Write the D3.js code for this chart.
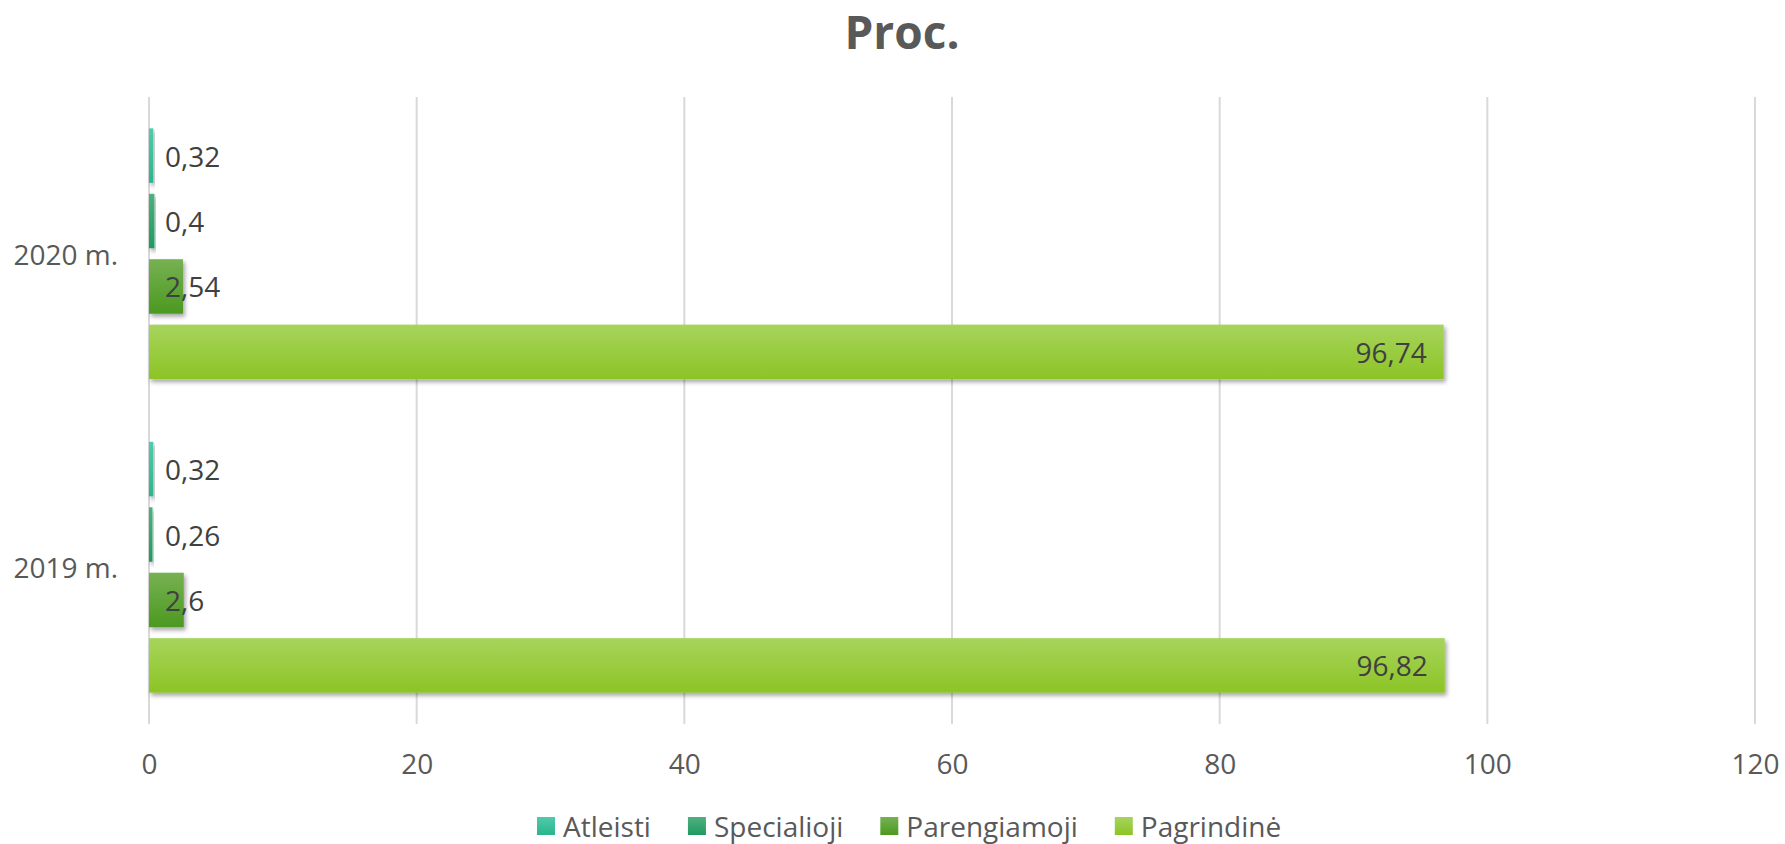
<!DOCTYPE html>
<html>
<head>
<meta charset="utf-8">
<script src="https://cdn.jsdelivr.net/npm/d3@7"></script>
<style>
html,body{margin:0;padding:0;background:#fff;}
svg{display:block;font-family:"Open Sans",sans-serif;}
</style>
</head>
<body>
<svg id="chart" width="1785" height="844"></svg>
<script>
const title = "Proc.";
const categories = ["2020 m.", "2019 m."];
const seriesNames = ["Atleisti", "Specialioji", "Parengiamoji", "Pagrindinė"];
const atleisti = [0.32, 0.32];
const specialioji = [0.4, 0.26];
const parengiamoji = [2.54, 2.6];
const pagrindine = [96.74, 96.82];
const xTicks = [0, 20, 40, 60, 80, 100, 120];

const seriesValues = [atleisti, specialioji, parengiamoji, pagrindine];
const colors = [
  ["#4fcbab", "#2bb48e"],
  ["#4fb07f", "#1f9a60"],
  ["#77b152", "#4b9920"],
  ["#a7d45c", "#8cc425"]
];

const svg = d3.select("#chart");
const defs = svg.append("defs");
colors.forEach((c, i) => {
  const g = defs.append("linearGradient").attr("id", "g" + i)
    .attr("x1", 0).attr("y1", 0).attr("x2", 0).attr("y2", 1);
  g.append("stop").attr("offset", "0%").attr("stop-color", c[0]);
  g.append("stop").attr("offset", "100%").attr("stop-color", c[1]);
});
const f = defs.append("filter").attr("id", "shadow")
  .attr("x", "-20%").attr("y", "-20%").attr("width", "150%").attr("height", "160%");
f.append("feDropShadow").attr("dx", 2).attr("dy", 3).attr("stdDeviation", 2)
  .attr("flood-color", "#000").attr("flood-opacity", 0.35);

const plotTop = 97, plotBottom = 724, plotLeft = 149, plotRight = 1755;

const x = d3.scaleLinear().domain([0, 120]).range([plotLeft, plotRight]);
const y = d3.scaleBand().domain(categories).range([plotTop, plotBottom]);
const bandH = y.bandwidth();
const inner = d3.scaleBand().domain(seriesNames)
  .range([bandH * 0.1, bandH * 0.9]).paddingInner(0.167);

// Title
svg.append("text").attr("x", 902).attr("y", 49)
  .attr("text-anchor", "middle").attr("font-size", 46).attr("font-weight", 700)
  .attr("fill", "#595959").text(title);

// Gridlines
svg.append("g").selectAll("line").data(xTicks).join("line")
  .attr("x1", d => x(d)).attr("x2", d => x(d))
  .attr("y1", plotTop).attr("y2", plotBottom)
  .attr("stroke", "#d9d9d9").attr("stroke-width", 2);

// X axis labels
const xAxis = d3.axisBottom(x).tickValues(xTicks).tickSize(0).tickPadding(0);
const xg = svg.append("g").attr("transform", `translate(0,${plotBottom})`).call(xAxis);
xg.select(".domain").remove();
xg.selectAll("text").attr("font-family", "Open Sans").attr("font-size", 28)
  .attr("fill", "#595959").attr("dy", null).attr("y", 39).attr("dominant-baseline", "central");

// Y axis labels
const yAxis = d3.axisLeft(y).tickSize(0).tickPadding(31);
const yg = svg.append("g").attr("transform", `translate(${plotLeft},0)`).call(yAxis);
yg.select(".domain").remove();
yg.selectAll("text").attr("font-family", "Open Sans").attr("font-size", 28)
  .attr("fill", "#595959").attr("dy", null).attr("dominant-baseline", "central");

// Bars
const data = [];
categories.forEach((cat, ci) => {
  seriesNames.forEach((s, si) => {
    data.push({cat, s, si, v: seriesValues[si][ci]});
  });
});

const barG = svg.append("g");
barG.selectAll("rect").data(data).join("rect")
  .attr("x", x(0))
  .attr("y", d => y(d.cat) + inner(d.s))
  .attr("width", d => x(d.v) - x(0))
  .attr("height", inner.bandwidth())
  .attr("fill", d => `url(#g${d.si})`)
  .attr("filter", "url(#shadow)");

// Labels
const fmt = v => String(v).replace(".", ",");
barG.selectAll("text").data(data).join("text")
  .attr("x", d => d.v > 20 ? x(d.v) - 17 : x(0) + 16)
  .attr("y", d => y(d.cat) + inner(d.s) + inner.bandwidth() / 2)
  .attr("text-anchor", d => d.v > 20 ? "end" : "start")
  .attr("dominant-baseline", "central")
  .attr("font-size", 28).attr("fill", "#404040")
  .text(d => fmt(d.v));

// Legend
const legend = svg.append("g");
let lx = 537;
const legY = 817;
seriesNames.forEach((s, i) => {
  legend.append("rect").attr("x", lx).attr("y", legY).attr("width", 18).attr("height", 18)
    .attr("fill", `url(#g${i})`);
  const t = legend.append("text").attr("x", lx + 26).attr("y", legY + 9)
    .attr("dominant-baseline", "central").attr("font-size", 28).attr("fill", "#595959").text(s);
  const w = t.node().getComputedTextLength();
  lx = lx + 26 + w + 37;
});
</script>
</body>
</html>
